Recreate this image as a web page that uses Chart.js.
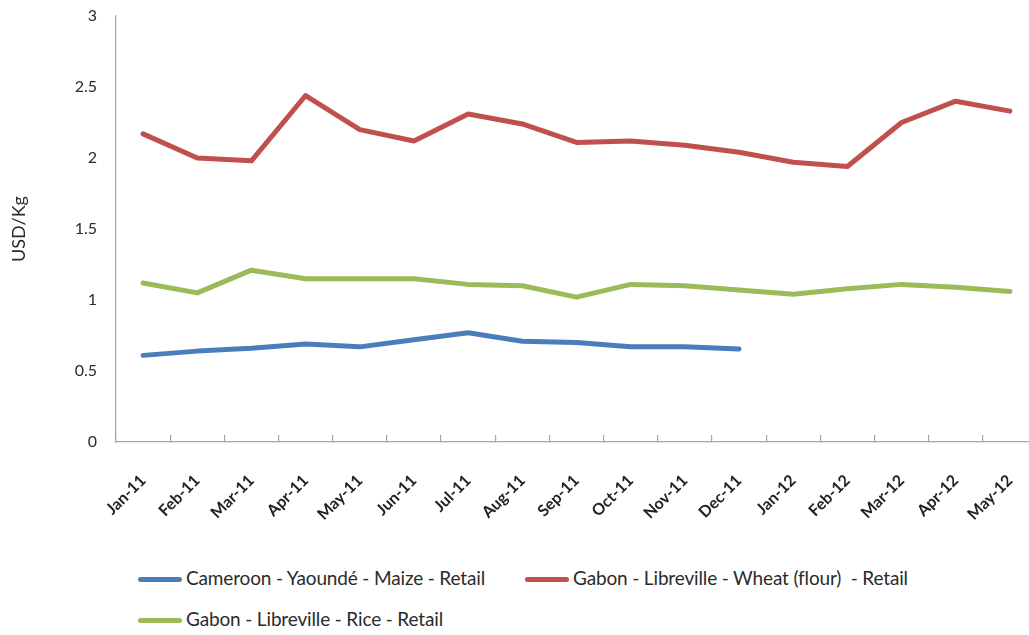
<!DOCTYPE html>
<html>
<head>
<meta charset="utf-8">
<script src="https://cdn.jsdelivr.net/npm/chart.js@4/dist/chart.umd.min.js"></script>
<style>
  html, body { margin: 0; padding: 0; background: #ffffff; overflow: hidden; }
  #wrap { position: relative; width: 1029px; height: 635px; overflow: hidden; }
  #c { position: absolute; left: 0; top: 0; }
  .legend { position: absolute; font-family: Lato, "Open Sans", sans-serif; font-size: 19px; letter-spacing: -0.15px; color: #2b2b2b; white-space: pre; }
  .legend .sw { position: absolute; height: 5px; border-radius: 3px; }
</style>
</head>
<body>
<div id="wrap">
  <canvas id="c" width="1040" height="560"></canvas>
  <div class="legend" id="lg0" style="left:186px; top:566px;"><span class="sw" style="left:-48px; top:11px; width:44px;"></span><span class="tx"></span></div>
  <div class="legend" id="lg1" style="left:573px; top:566px;"><span class="sw" style="left:-48px; top:11px; width:44px;"></span><span class="tx"></span></div>
  <div class="legend" id="lg2" style="left:186px; top:607px;"><span class="sw" style="left:-48px; top:11px; width:44px;"></span><span class="tx"></span></div>
</div>
<script>
// Monthly retail prices, USD per kg
const months = ['Jan-11','Feb-11','Mar-11','Apr-11','May-11','Jun-11','Jul-11','Aug-11','Sep-11','Oct-11','Nov-11','Dec-11','Jan-12','Feb-12','Mar-12','Apr-12','May-12'];
const maizeYaounde = [0.61, 0.64, 0.66, 0.69, 0.67, 0.72, 0.77, 0.71, 0.70, 0.67, 0.67, 0.655, null, null, null, null, null];
const wheatLibreville = [2.17, 2.00, 1.98, 2.44, 2.20, 2.12, 2.31, 2.24, 2.11, 2.12, 2.09, 2.04, 1.97, 1.94, 2.25, 2.40, 2.33];
const riceLibreville = [1.12, 1.05, 1.21, 1.15, 1.15, 1.15, 1.11, 1.10, 1.02, 1.11, 1.10, 1.07, 1.04, 1.08, 1.11, 1.09, 1.06];
const yTicks = [0, 0.5, 1, 1.5, 2, 2.5, 3];
const seriesNames = ['Cameroon - Yaoundé - Maize - Retail', 'Gabon - Libreville - Wheat (flour)  - Retail', 'Gabon - Libreville - Rice - Retail'];
const seriesColors = ['#4a7ebb', '#c0504d', '#9bbb59'];

const seriesData = [maizeYaounde, wheatLibreville, riceLibreville];

const chart = new Chart(document.getElementById('c'), {
  type: 'line',
  data: {
    labels: months,
    datasets: seriesData.map((d, i) => ({
      label: seriesNames[i],
      data: d,
      borderColor: seriesColors[i],
      backgroundColor: seriesColors[i],
      borderWidth: 5,
      pointRadius: 0,
      tension: 0,
      spanGaps: false,
      borderJoinStyle: 'round',
      borderCapStyle: 'round'
    }))
  },
  options: {
    responsive: false,
    animation: false,
    layout: { padding: { top: 16, right: 3, left: 0, bottom: 0 } },
    plugins: { legend: { display: false }, tooltip: { enabled: false } },
    scales: {
      x: {
        type: 'category',
        offset: true,
        border: { display: true, color: '#a6a6a6', width: 1.2 },
        grid: { offset: true, drawOnChartArea: false, drawTicks: true, tickLength: -7, color: '#a6a6a6', lineWidth: 1.2 },
        ticks: {
          autoSkip: false,
          maxRotation: 45,
          minRotation: 45,
          padding: 36,
          color: '#222222',
          font: { family: 'Lato, "Open Sans", sans-serif', size: 16, weight: 'bold' }
        },
        afterFit: s => { s.height = 118; s.paddingLeft = 0; s.paddingRight = 0; }
      },
      y: {
        min: 0,
        max: 3,
        afterBuildTicks: s => { s.ticks = yTicks.map(v => ({ value: v })); },
        border: { display: true, color: '#a6a6a6', width: 1.2 },
        grid: { display: false, drawTicks: false },
        ticks: {
          padding: 19,
          color: '#2b2b2b',
          callback: v => String(v),
          font: { family: 'Lato, "Open Sans", sans-serif', size: 16 }
        },
        title: {
          display: true,
          text: 'USD/Kg',
          color: '#2b2b2b',
          padding: { top: 8, bottom: 10 },
          font: { family: 'Lato, "Open Sans", sans-serif', size: 18 }
        },
        afterFit: s => { s.width = 116; s.paddingTop = 0; s.paddingBottom = 0; }
      }
    }
  }
});

// HTML legend built from the dataset definitions
chart.data.datasets.forEach((ds, i) => {
  const el = document.getElementById('lg' + i);
  el.querySelector('.sw').style.background = ds.borderColor;
  el.querySelector('.tx').textContent = ds.label;
});
</script>
</body>
</html>
